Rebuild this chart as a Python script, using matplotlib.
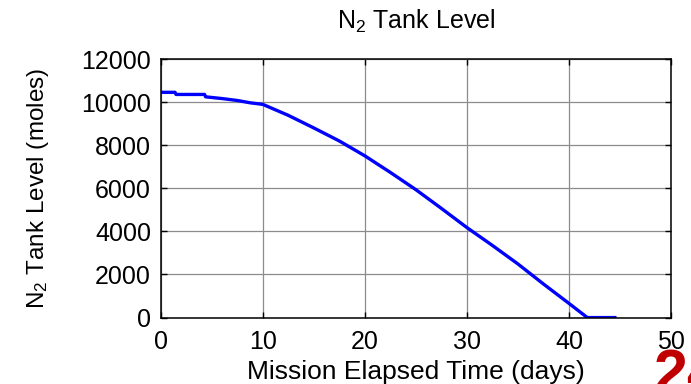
import matplotlib
matplotlib.use("Agg")
import matplotlib.pyplot as plt

plt.rcParams['font.family'] = ['Liberation Sans', 'DejaVu Sans']
plt.rcParams['mathtext.fontset'] = 'custom'
plt.rcParams['mathtext.rm'] = 'Liberation Sans'
plt.rcParams['mathtext.it'] = 'Liberation Sans'

# mission time (days) and N2 tank level (moles)
days = [0, 1.4, 1.5, 4.3, 4.4, 6, 7.5, 8.8, 10, 12.5, 15, 17.5, 20,
        22.5, 25, 27.5, 30, 32.5, 35, 37.5, 40, 41.8, 44.5]
level = [10460, 10460, 10360, 10360, 10250, 10170, 10080, 9970, 9900,
         9390, 8805, 8200, 7510, 6740, 5940, 5070, 4180, 3350, 2490,
         1560, 660, 0, 0]

xticks = [0, 10, 20, 30, 40, 50]
yticks = [0, 2000, 4000, 6000, 8000, 10000, 12000]

fig = plt.figure(figsize=(6.91, 3.84), dpi=100)
ax = fig.add_axes([0.2326, 0.173, 0.7384, 0.673])

ax.plot(days, level, color='#0000ff', linewidth=2.4)

ax.set_xlim(0, 50)
ax.set_ylim(0, 12000)
ax.set_xticks(xticks)
ax.set_yticks(yticks)
ax.grid(True, color='#8c8c8c', linewidth=0.9)
ax.tick_params(direction='in', length=4, width=1, top=True, right=True,
               labelsize=18)
ax.tick_params(axis='x', pad=9)
ax.tick_params(axis='y', pad=7)
for s in ax.spines.values():
    s.set_linewidth(1.1)

ax.set_xlabel('Mission Elapsed Time (days)', fontsize=19)
ax.set_ylabel('N$_2$ Tank Level (moles)', fontsize=17.5)
ax.xaxis.set_label_coords(0.5, -0.163)
ax.yaxis.set_label_coords(-0.215, 0.5)

fig.text(0.6017, 0.945, 'N$_2$ Tank Level', fontsize=18, ha='center',
         va='center')

# slide page number, cut off at the corner
fig.text(654 / 691, -0.021, '24', fontsize=44, fontweight='bold',
         color='#c00000', ha='left', va='baseline')

fig.savefig('out.png', dpi=100)
